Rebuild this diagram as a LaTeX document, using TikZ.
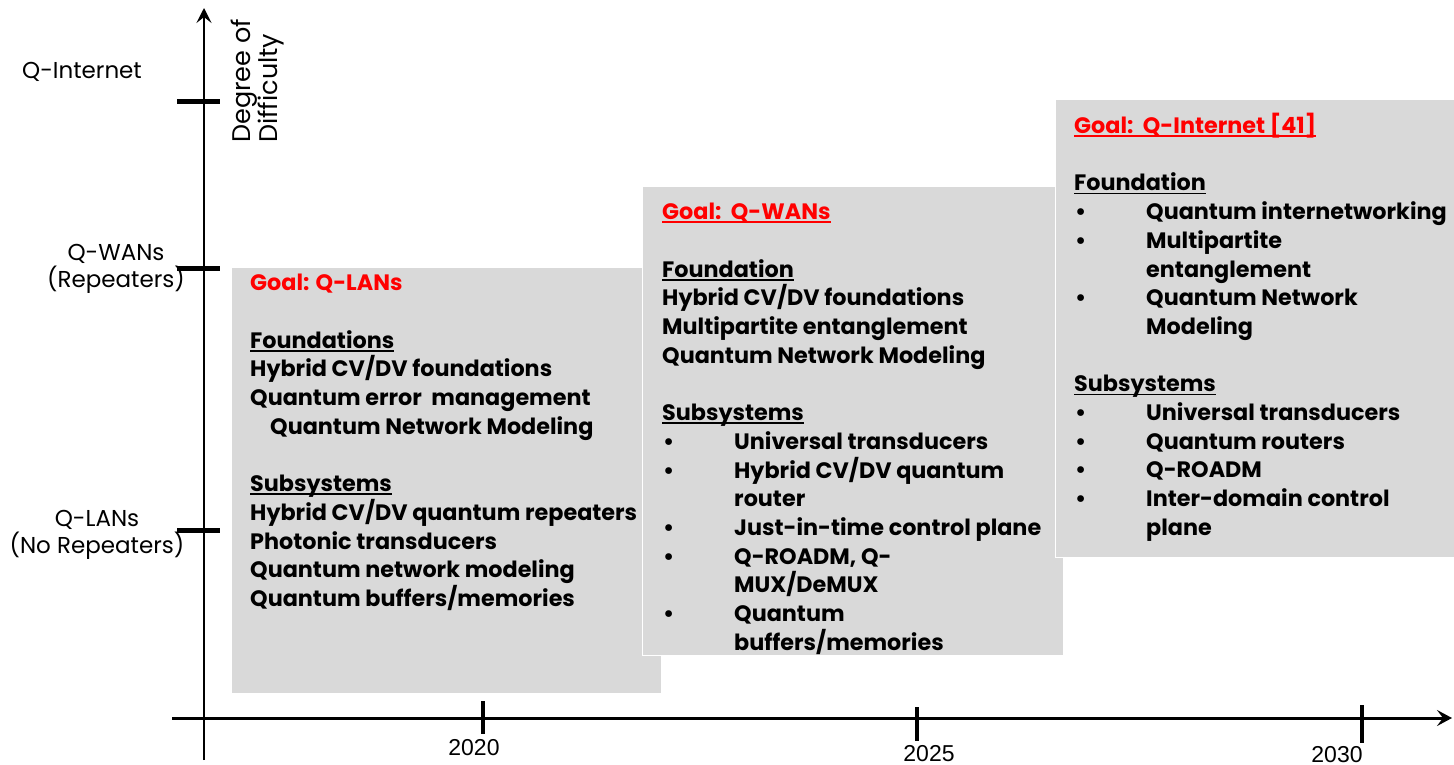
\documentclass[tikz,border=0pt]{standalone}
\usepackage{fontspec}
\setmainfont{Poppins}
\newfontfamily\yearfam{Liberation Sans}
\usetikzlibrary{arrows.meta}

\definecolor{panelgray}{HTML}{D9D9D9}
\definecolor{goalred}{HTML}{FF0000}

\newcommand\ulhead[1]{\setbox0\hbox{#1}\rlap{\rule[-3.5pt]{\wd0}{1.8pt}}\box0}
\newcommand\goal[1]{\textcolor{goalred}{#1}}
\newcommand\bul{\makebox[72pt][l]{\hspace{1pt}\textbullet}}
\newcommand\hang{\hspace*{72pt}}

\begin{document}
\begin{tikzpicture}[x=1pt,y=-1pt]
        \tikzset{
            panel/.style={fill=panelgray, draw=white, line width=1.2pt, anchor=north west, inner sep=0pt},
            panetext/.style={anchor=north west, align=left, inner sep=0pt, font=\fontsize{22.3}{28.7}\selectfont\bfseries},
            levellab/.style={align=center, inner sep=0pt, font=\fontsize{23}{27}\selectfont},
            yearlab/.style={inner sep=0pt, font=\fontsize{23}{27}\selectfont\yearfam},
            levtick/.style={line width=5pt},
            yeartick/.style={line width=4pt},
        }
        \useasboundingbox (0,0) rectangle (1454,765);

        % axes
        \coordinate (yfoot) at (204,760);
        \coordinate (ytop) at (204,8);
        \coordinate (xfoot) at (172,718);
        \coordinate (xtip) at (1452,718);
        \draw[line width=2pt, -{Stealth[length=15pt,width=15pt,inset=6pt]}] (yfoot) -- (ytop);
        \draw[line width=3pt, -{Stealth[length=15pt,width=16pt,inset=6pt]}] (xfoot) -- (xtip);

        \foreach \yy in {102,268,530}
            \draw[levtick] (177,\yy) -- (220,\yy);
        \draw[yeartick] (483,701) -- (483,734);
        \draw[yeartick] (917,707) -- (917,741);
        \draw[yeartick] (1362,705) -- (1362,743);

        \node[yearlab] (y2020) at (474,748) {2020};
        \node[yearlab] (y2025) at (929,754) {2025};
        \node[yearlab] (y2030) at (1337,755) {2030};

        \node[levellab] (qnet) at (82,72) {Q-Internet};
        \node[levellab] (qwan) at (116,269) {Q-WANs\\(Repeaters)};
        \node[levellab] (qlan) at (97,535) {Q-LANs\\(No Repeaters)};
        \node[levellab, rotate=90, align=left, anchor=north west, font=\fontsize{25.5}{27}\selectfont] (difficulty) at (231,143) {Degree of\\Difficulty};

        % Q-LAN stage
        \node[panel, minimum width=430pt, minimum height=426pt] (lanpanel) at (231,267) {};
        \node[panetext] (lantext) at (250,274) {%
            \goal{Goal: Q-LANs}\\[28.7pt]
            \ulhead{Foundations}\\
            Hybrid CV/DV foundations\\
            Quantum error\ \ management\\
            \hspace*{20pt}Quantum Network Modeling\\[28.7pt]
            \ulhead{Subsystems}\\
            Hybrid CV/DV quantum repeaters\\
            Photonic transducers\\
            Quantum network modeling\\
            Quantum buffers/memories};

        % Q-WAN stage
        \node[panel, minimum width=421pt, minimum height=469pt] (wanpanel) at (642,186) {};
        \node[panetext] (wantext) at (662,203) {%
            \goal{\ulhead{Goal:~~Q-WANs}}\\[28.7pt]
            \ulhead{Foundation}\\
            Hybrid CV/DV foundations\\
            Multipartite entanglement\\
            Quantum Network Modeling\\[28.7pt]
            \ulhead{Subsystems}\\
            \bul Universal transducers\\
            \bul Hybrid CV/DV quantum\\
            \hang router\\
            \bul Just-in-time control plane\\
            \bul Q-ROADM, Q-\\
            \hang MUX/DeMUX\\
            \bul Quantum\\
            \hang buffers/memories};

        % Q-Internet stage
        \node[panel, minimum width=400pt, minimum height=458pt] (netpanel) at (1055,99) {};
        \node[panetext] (nettext) at (1074,113) {%
            \goal{\ulhead{Goal:~~Q-Internet [41]}}\\[28.7pt]
            \ulhead{Foundation}\\
            \bul Quantum internetworking\\
            \bul Multipartite\\
            \hang entanglement\\
            \bul Quantum Network\\
            \hang Modeling\\[28.7pt]
            \ulhead{Subsystems}\\
            \bul Universal transducers\\
            \bul Quantum routers\\
            \bul Q-ROADM\\
            \bul Inter-domain control\\
            \hang plane};
    \end{tikzpicture}
\end{document}
